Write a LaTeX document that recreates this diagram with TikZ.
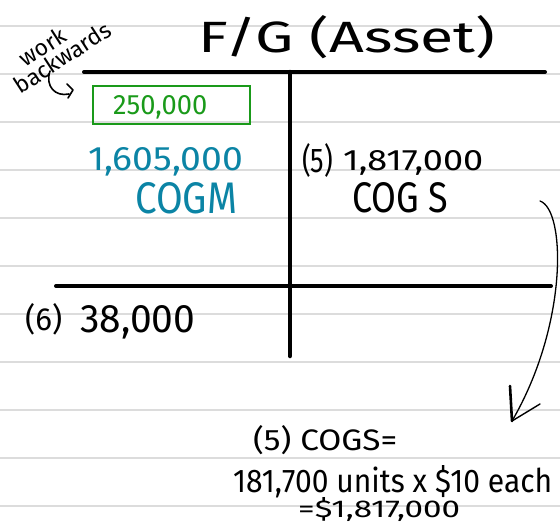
\documentclass[tikz,border=0pt]{standalone}
\usepackage{fontspec}
\setmainfont{Fira Sans}
\usepackage{graphicx}
\definecolor{paperline}{HTML}{DCDCDC}
\definecolor{boxgreen}{HTML}{1A9A1A}
\definecolor{tealink}{HTML}{0B84A5}
\newcommand{\fitt}[3]{\resizebox{#1}{#2}{#3}}
\begin{document}
\begin{tikzpicture}[x=1pt,y=-1pt,
  txt/.style={inner sep=0pt, anchor=base west},
  tline/.style={line width=4pt, line cap=round},
  ink/.style={line width=1.6pt, line cap=round, line join=round}]
\useasboundingbox (0,0) rectangle (560,523);
\fill[white] (0,0) rectangle (560,523);
\foreach \y in {26,74,...,506} \draw[paperline, line width=2pt] (0,\y) -- (560,\y);
% T account
\coordinate (tl) at (84,72);
\coordinate (tr) at (545,72);
\coordinate (vt) at (290,72);
\coordinate (vb) at (290,356);
\coordinate (bl) at (56,286);
\coordinate (br) at (551,286);
\draw[tline] (tl) -- (tr);
\draw[tline] (bl) -- (br);
\draw[line width=4.5pt, line cap=round] (vt) -- (vb);
% title
\node[txt] (title) at (198,52) {\fitt{297pt}{37pt}{F/G (Asset)}};
% work backwards
\node[inner sep=0pt, rotate=33, align=left, font=\fontsize{23}{20}\selectfont] (wb) at (57,49) {\hspace*{19pt}work\\backwards};
\coordinate (cs) at (50,71);
\coordinate (ce) at (69,94);
\coordinate (ctip) at (73,90);
\draw[ink] (cs) .. controls (45,86) and (55,97) .. (ce);
\draw[ink] (67,84) -- (ctip) -- (68,98);
% green box
\node[draw=boxgreen, line width=2pt, minimum width=157pt, minimum height=38pt, inner sep=0pt] (gbox) at (171.5,105) {};
\node[txt, text=boxgreen] (g250) at (113,114) {\fitt{94pt}{19pt}{250,000}};
% left column
\node[txt, text=tealink] (cogmval) at (88,170) {\fitt{155pt}{23pt}{1,605,000}};
\node[txt, text=tealink] (cogm) at (135,213) {\fitt{102pt}{31pt}{COGM}};
\node[txt] (six) at (25,330) {\fitt{37pt}{27pt}{(6)}};
\node[txt] (end) at (80,332) {\fitt{115pt}{27pt}{38,000}};
% right column
\node[txt] (five) at (302,172) {\fitt{31pt}{29pt}{(5)}};
\node[txt] (cogsval) at (343,170) {\fitt{140pt}{20pt}{1,817,000}};
\node[txt] (cogs) at (352,212) {\fitt{96pt}{30pt}{COG S}};
% arrow
\coordinate (a0) at (540,201);
\coordinate (a1) at (512,421);
\draw[line width=1.3pt, line cap=round] (a0) .. controls (566,210) and (568,325) .. (a1);
\draw[line width=2.6pt, line cap=round] (510,386) -- (a1);
\draw[line width=1.4pt, line cap=round] (a1) -- (540,404);
% note
\node[txt] (n1) at (253,450) {\fitt{144pt}{25pt}{(5) COGS=}};
\node[txt] (n2) at (233,492) {\fitt{319pt}{27pt}{181,700 units x \$10 each}};
\node[txt] (n3) at (298,517) {\fitt{162pt}{20pt}{=\$1,817,000}};
\end{tikzpicture}
\end{document}
